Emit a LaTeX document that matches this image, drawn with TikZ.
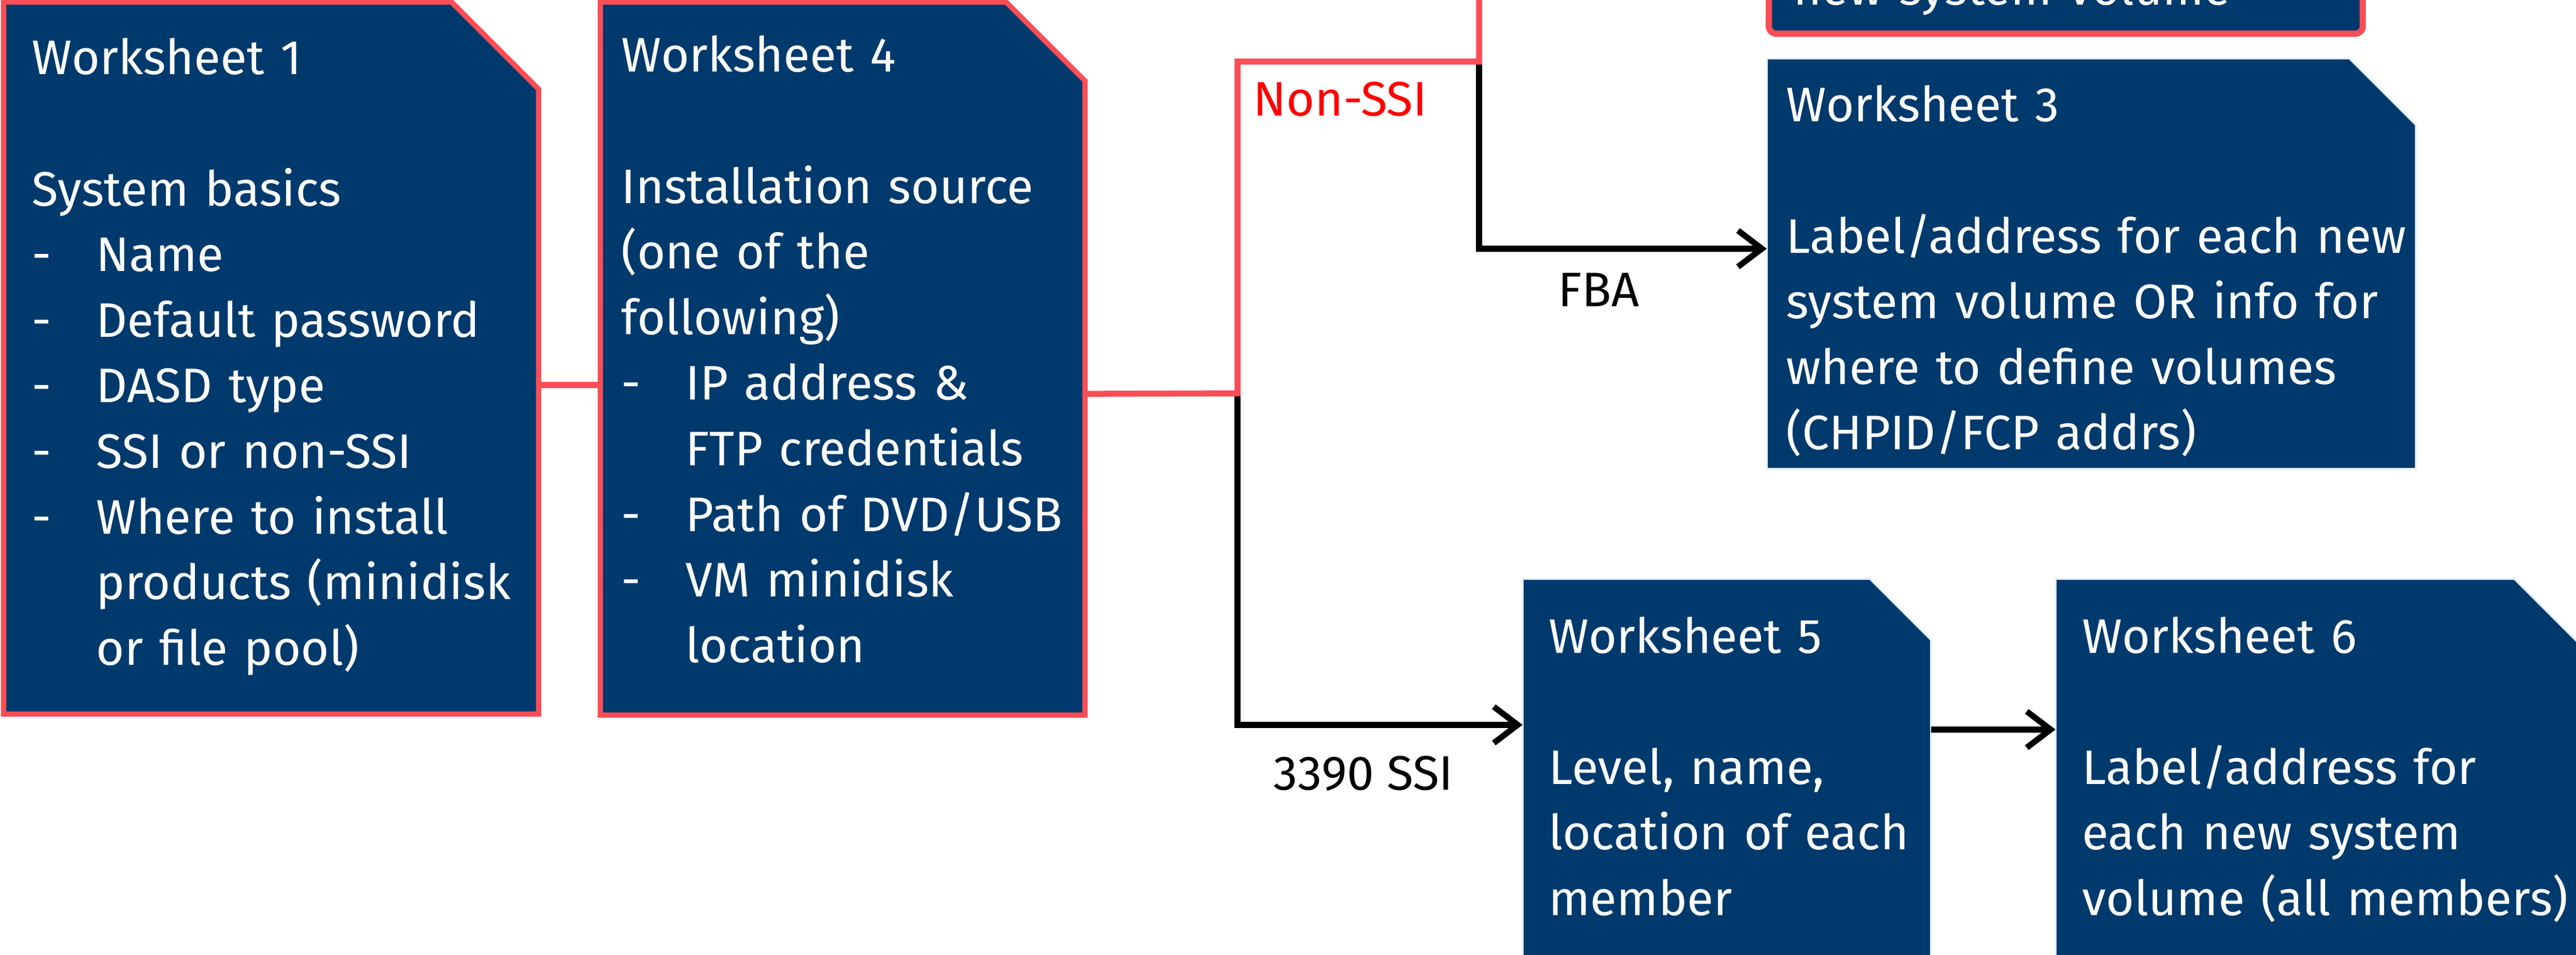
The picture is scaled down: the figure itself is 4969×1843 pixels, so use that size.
\documentclass[tikz,border=0pt]{standalone}
\usepackage{fontspec}
\setmainfont{Fira Sans}
\usetikzlibrary{arrows.meta}

\definecolor{wsblue}{HTML}{003A6D}
\definecolor{wsred}{HTML}{FA4D56}
\definecolor{wsedge}{HTML}{E5F0FB}

\newcommand{\wsfont}{\fontsize{26.6}{36}\selectfont}
\newcommand{\itm}[1]{\makebox[1.24cm][l]{-}#1}
\newcommand{\ind}{\hspace*{1.24cm}}

\tikzset{
  sheet/.style={rectangle, inner sep=0pt, anchor=north west},
  sheettext/.style={anchor=base west, inner sep=0pt, text=white, text width=20cm, align=left, font=\wsfont},
  lbl/.style={anchor=base west, inner sep=0pt, font=\wsfont},
  redline/.style={line width=0.115cm, wsred},
  blackline/.style={line width=0.115cm, black, -{Straight Barb[length=0.46cm,width=0.7cm]}}
}

\begin{document}
\begin{tikzpicture}[x=0.01cm, y=-0.01cm]
  \useasboundingbox (0,0) rectangle (4969,1843);
  \clip (0,0) rectangle (4969,1843);

  % sheet outlines
  \node[sheet, minimum width=10.30cm, minimum height=13.72cm] (ws1) at (7,4) {};
  \node[sheet, minimum width=9.33cm,  minimum height=13.74cm] (ws4) at (1158,4) {};
  \node[sheet, minimum width=12.50cm, minimum height=7.90cm]  (ws3) at (3408,113) {};
  \node[sheet, minimum width=7.86cm,  minimum height=8.00cm]  (ws5) at (2937,1117) {};
  \node[sheet, minimum width=10.08cm, minimum height=8.00cm]  (ws6) at (3965,1117) {};
  \node[rectangle, anchor=south west, minimum width=11.45cm, minimum height=5cm,
        fill=wsblue, draw=wsred, line width=0.12cm, rounded corners=4pt] (ws2) at (3406,71) {};

  \foreach \n/\c/\e/\w in {ws1/1.68/wsred/0.1cm, ws4/1.52/wsred/0.1cm,
                           ws3/1.28/wsedge/1pt, ws5/1.18/wsedge/1pt, ws6/1.25/wsedge/1pt}
    \filldraw[fill=wsblue, draw=\e, line width=\w]
      (\n.south west) -- (\n.north west) -- ([xshift=-\c cm]\n.north east)
      -- ([yshift=-\c cm]\n.north east) -- (\n.south east) -- cycle;

  % sheet texts
  \node[sheettext] (t1) at (61,144) {Worksheet 1\\[36pt]System basics\\
    \itm{Name}\\ \itm{Default password}\\ \itm{DASD type}\\ \itm{SSI or non-SSI}\\
    \itm{Where to install}\\ \ind products (minidisk\\ \ind or file pool)};
  \node[sheettext] (t4) at (1198,139) {Worksheet 4\\[36pt]Installation source\\
    (one of the\\ following)\\ \itm{IP address \&}\\ \ind FTP credentials\\
    \itm{Path of DVD/USB}\\ \itm{VM minidisk}\\ \ind location};
  \node[sheettext] (t3) at (3445,235) {Worksheet 3\\[36pt]Label/address for each new\\
    system volume OR info for\\ where to define volumes\\ (CHPID/FCP addrs)};
  \node[sheettext] (t5) at (2987,1260) {Worksheet 5\\[36pt]Level, name,\\ location of each\\ member};
  \node[sheettext] (t6) at (4016,1260) {Worksheet 6\\[36pt]Label/address for\\ each new system\\ volume (all members)};
  \node[sheettext] (t2) at (3459,10) {new system volume};

  % connectors
  \coordinate (split) at (2387,759);
  \coordinate (knee) at (2853,119);
  \coordinate (up) at (2853,-60);

  \draw[blackline] (knee) |- ([yshift=0.29cm]ws3.west);
  \draw[blackline] (split) |- ([yshift=1.19cm]ws5.west);
  \draw[blackline] ([yshift=1.10cm]ws5.east) -- ([yshift=1.10cm]ws6.west);

  \draw[redline] ([yshift=-0.52cm]ws1.east) -- ([yshift=-0.52cm]ws1.east -| ws4.west);
  \draw[redline] ([yshift=-0.68cm]ws4.east) -- (split) -- (split |- knee) -- (knee) -- (up);

  \node[lbl, text=red] (nonssi) at (2417,224) {Non-SSI};
  \node[lbl] (fba) at (3005,592) {FBA};
  \node[lbl] (ssi) at (2456,1524) {3390 SSI};
\end{tikzpicture}
\end{document}
